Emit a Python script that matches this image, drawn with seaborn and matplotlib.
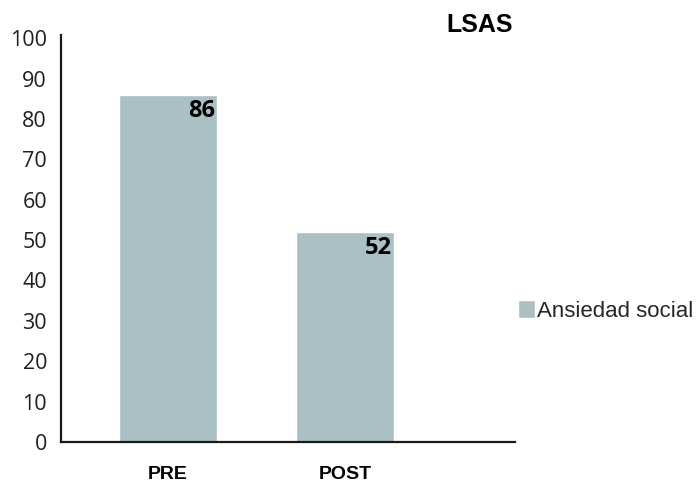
import matplotlib
matplotlib.use("Agg")
import matplotlib.pyplot as plt
import seaborn as sns
import pandas as pd

# Data
categories = ["PRE", "POST"]
values = [86, 52]
series_name = "Ansiedad social"
y_ticks = [0, 10, 20, 30, 40, 50, 60, 70, 80, 90, 100]
title = "LSAS"

bar_color = "#AAC0C5"
text_color = "#231F20"

sns.set_theme(style="white")
plt.rcParams["font.family"] = ["Open Sans", "DejaVu Sans"]

df = pd.DataFrame({"fase": categories, "valor": values, "serie": series_name})

fig = plt.figure(figsize=(6.97, 4.90), dpi=100)
W, H = 697, 490
ax = fig.add_axes([61 / W, 1 - 442 / H, (515 - 61) / W, (442 - 35) / H])

sns.barplot(data=df, x="fase", y="valor", hue="serie", palette=[bar_color],
            width=0.554, saturation=1, ax=ax, legend=True)

ax.set_xlim(-0.605, 1.96)
ax.set_ylim(0, 100.8)
ax.set_yticks(y_ticks)
ax.set_yticklabels([str(t) for t in y_ticks], fontsize=15.5, color=text_color)
ax.set_xlabel("")
ax.set_ylabel("")
ax.tick_params(axis="both", length=0)
ax.tick_params(axis="y", pad=10)
ax.tick_params(axis="x", pad=17)
for lbl in ax.get_xticklabels():
    lbl.set_fontfamily("Liberation Sans")
    lbl.set_fontweight("bold")
    lbl.set_fontsize(14)
    lbl.set_color("black")

for side in ["top", "right"]:
    ax.spines[side].set_visible(False)
for side in ["left", "bottom"]:
    ax.spines[side].set_color("#1a1a1a")
    ax.spines[side].set_linewidth(1.6)

# Value labels in the top-right corner of each bar
for patch, val in zip(ax.patches, values):
    ax.annotate(str(val), xy=(patch.get_x() + patch.get_width(), patch.get_height()),
                xytext=(-1.5, -3), textcoords="offset points",
                ha="right", va="top", fontsize=17, fontweight="bold", color="black")

# Title
ax.text((480 - 61) / (515 - 61), 1 + 3 / 407, title, transform=ax.transAxes,
        ha="center", va="baseline", fontsize=18, fontweight="bold",
        family="Liberation Sans", color="black")

# Legend
handles, labels = ax.get_legend_handles_labels()
ax.legend(handles, labels, loc="center left",
          bbox_to_anchor=(518 / W, 1 - 311 / H), bbox_transform=fig.transFigure,
          frameon=False, handlelength=0.75, handleheight=0.9, handletextpad=0.12,
          borderaxespad=0, borderpad=0,
          prop={"family": "Liberation Sans", "size": 16})

fig.savefig("out.png", dpi=100, facecolor="white")
